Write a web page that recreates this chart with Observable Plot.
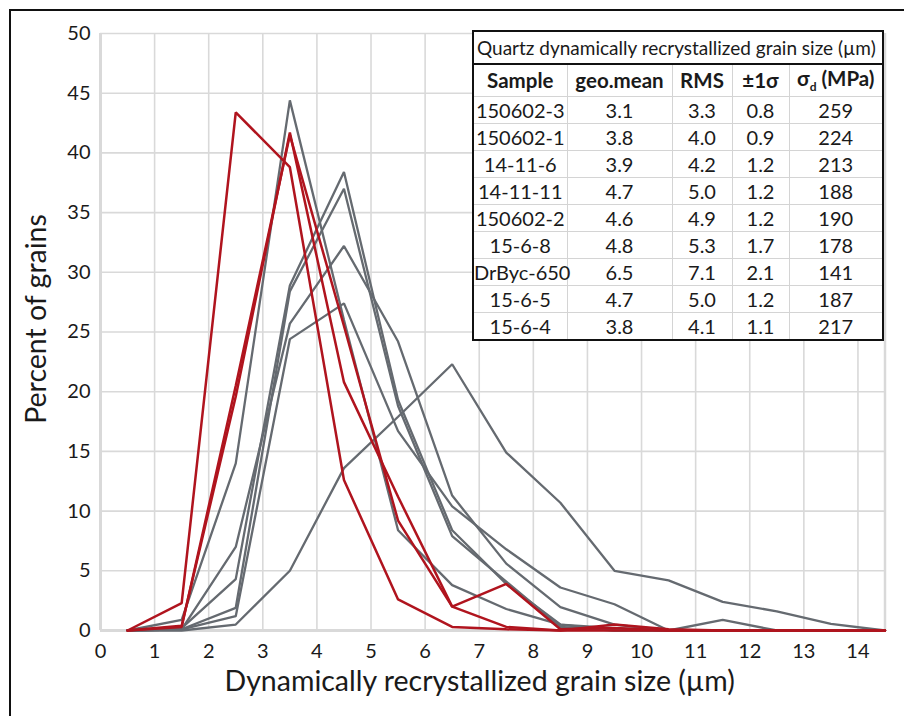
<!DOCTYPE html>
<html>
<head>
<meta charset="utf-8">
<script src="https://cdn.jsdelivr.net/npm/d3@7"></script>
<script src="https://cdn.jsdelivr.net/npm/@observablehq/plot@0.6"></script>
<style>
  html, body { margin: 0; padding: 0; background: #fff; }
  #wrap { position: relative; width: 904px; height: 716px; overflow: hidden; font-family: Lato, "Noto Sans", sans-serif; color: #1a1a1a; }
  #wrap svg { position: absolute; left: 0; top: 0; }
  .border-top { position: absolute; left: 10px; top: 9px; width: 894px; height: 2px; background: #111; }
  .border-left { position: absolute; left: 9px; top: 9px; width: 2px; height: 707px; background: #111; }
  table.stats { position: absolute; left: 472px; top: 30px; border-collapse: collapse; background: #fff; border: 2px solid #111; font-size: 20px; }
  table.stats td, table.stats th { border: 1.5px solid #d4d4d4; padding: 0; text-align: center; line-height: 1; white-space: nowrap; overflow: visible; }
  table.stats th { font-weight: 700; height: 31px; font-size: 20.5px; }
  table.stats td { height: 26px; }
  table.stats td.title { border-bottom: 2px solid #111; font-size: 19px; text-align: left; padding-left: 3px; height: 31px; }
</style>
</head>
<body>
<div id="wrap">
  <div class="border-top"></div>
  <div class="border-left"></div>
</div>
<script>
// ---- data ----
const sizeBins = [0.5, 1.5, 2.5, 3.5, 4.5, 5.5, 6.5, 7.5, 8.5, 9.5, 10.5, 11.5, 12.5, 13.5, 14.5];
const xTicks = [0, 1, 2, 3, 4, 5, 6, 7, 8, 9, 10, 11, 12, 13, 14];
const yTicks = [0, 5, 10, 15, 20, 25, 30, 35, 40, 45, 50];

// percent of grains per size bin (grey curves)
const s14_11_6   = [0, 0.9, 14.0, 44.4, 26.0, 8.4, 3.8, 1.8, 0.5, 0, 0, 0, 0, 0, 0];
const s14_11_11  = [0, 0.2, 4.3, 28.9, 38.4, 19.3, 8.4, 3.9, 0.5, 0.2, 0, 0, 0, 0, 0];
const s15_6_5    = [0, 0.1, 1.9, 28.4, 37.0, 18.8, 7.9, 4.1, 0.3, 0, 0, 0, 0, 0, 0];
const s15_6_8    = [0, 0.1, 7.0, 25.7, 32.2, 24.2, 11.3, 5.6, 1.95, 0.5, 0, 0, 0, 0, 0];
const s150602_2  = [0, 0.1, 1.2, 24.4, 27.4, 16.7, 10.4, 6.8, 3.6, 2.2, 0, 0.9, 0, 0, 0];
const sDrByc_650 = [0, 0, 0.5, 5.0, 13.6, 17.9, 22.3, 14.9, 10.7, 5.0, 4.2, 2.4, 1.6, 0.55, 0];
// red curves
const s150602_3  = [0, 2.3, 43.4, 38.8, 12.6, 2.6, 0.3, 0.1, 0, 0, 0, 0, 0, 0, 0];
const s150602_1  = [0, 0.4, 19.6, 41.7, 20.8, 11.2, 2.0, 3.9, 0.1, 0.2, 0, 0, 0, 0, 0];
const s15_6_4    = [0, 0.3, 20.5, 41.5, 25.5, 9.2, 2.0, 0.3, 0, 0.5, 0.1, 0, 0, 0, 0];

const greySeries = [["14-11-6", s14_11_6], ["14-11-11", s14_11_11], ["15-6-5", s15_6_5],
                    ["15-6-8", s15_6_8], ["150602-2", s150602_2], ["DrByc-650", sDrByc_650]];
const redSeries = [["150602-3", s150602_3], ["150602-1", s150602_1], ["15-6-4", s15_6_4]];

// table values
const tableTitle = "Quartz dynamically recrystallized grain size (µm)";
const tableSamples = ["150602-3", "150602-1", "14-11-6", "14-11-11", "150602-2", "15-6-8", "DrByc-650", "15-6-5", "15-6-4"];
const geoMean = ["3.1", "3.8", "3.9", "4.7", "4.6", "4.8", "6.5", "4.7", "3.8"];
const rms     = ["3.3", "4.0", "4.2", "5.0", "4.9", "5.3", "7.1", "5.0", "4.1"];
const sigma1  = ["0.8", "0.9", "1.2", "1.2", "1.2", "1.7", "2.1", "1.2", "1.1"];
const stress  = ["259", "224", "213", "188", "190", "178", "141", "187", "217"];

const xLabel = "Dynamically recrystallized grain size (µm)";
const yLabel = "Percent of grains";

// ---- build ----
const toRows = (list) => list.flatMap(([name, vals]) => vals.map((v, i) => ({sample: name, size: sizeBins[i], pct: v})));
const greyRows = toRows(greySeries);
const redRows = toRows(redSeries);

const gridColor = "#d9d9d9";
const chart = Plot.plot({
  width: 904,
  height: 716,
  marginLeft: 100,
  marginRight: 19.5,
  marginTop: 33,
  marginBottom: 86,
  style: {fontFamily: "Lato, 'Noto Sans', sans-serif", color: "#1a1a1a", background: "transparent", overflow: "visible"},
  x: {domain: [0, 14.5]},
  y: {domain: [0, 50]},
  marks: [
    Plot.ruleX(xTicks.filter(d => d > 0), {stroke: gridColor, strokeWidth: 1.6}),
    Plot.ruleY(yTicks.filter(d => d > 0), {stroke: gridColor, strokeWidth: 1.6}),
    Plot.ruleX([14.5], {stroke: gridColor, strokeWidth: 2.5}),
    Plot.ruleX([0], {stroke: gridColor, strokeWidth: 3}),
    Plot.ruleY([0], {stroke: gridColor, strokeWidth: 3}),
    Plot.line(greyRows, {x: "size", y: "pct", z: "sample", stroke: "#656a70", strokeWidth: 2.3, strokeLinejoin: "miter"}),
    Plot.line(redRows, {x: "size", y: "pct", z: "sample", stroke: "#b0141e", strokeWidth: 2.5, strokeLinejoin: "miter"}),
    Plot.axisX({ticks: xTicks, tickSize: 0, tickPadding: 13, fontSize: 20, label: null, tickFormat: d => String(d)}),
    Plot.axisY({ticks: yTicks, tickSize: 0, tickPadding: 10, fontSize: 20, label: null, tickFormat: d => String(d)}),
    Plot.text([xLabel], {frameAnchor: "bottom", textAnchor: "middle", dx: -13, dy: 60, fontSize: 28.5, fill: "#1a1a1a"}),
    Plot.text([yLabel], {frameAnchor: "left", textAnchor: "middle", dx: -64, dy: -13, rotate: -90, fontSize: 28.5, fill: "#1a1a1a"})
  ]
});
const wrap = document.getElementById("wrap");
wrap.insertBefore(chart, wrap.firstChild);

// table
const table = document.createElement("table");
table.className = "stats";
const colWidths = [94, 105, 60, 57, 94];
let html = `<colgroup>${colWidths.map(w => `<col style="width:${w}px">`).join("")}</colgroup>`;
html += `<tr><td class="title" colspan="5">${tableTitle}</td></tr>`;
html += `<tr><th>Sample</th><th>geo.mean</th><th>RMS</th><th>±1σ</th><th>σ<sub style="font-size:12px">d</sub> (MPa)</th></tr>`;
tableSamples.forEach((s, i) => {
  html += `<tr><td>${s}</td><td>${geoMean[i]}</td><td>${rms[i]}</td><td>${sigma1[i]}</td><td>${stress[i]}</td></tr>`;
});
table.innerHTML = html;
table.style.tableLayout = "fixed";
table.style.width = colWidths.reduce((a, b) => a + b, 0) + "px";
wrap.appendChild(table);
</script>
</body>
</html>
